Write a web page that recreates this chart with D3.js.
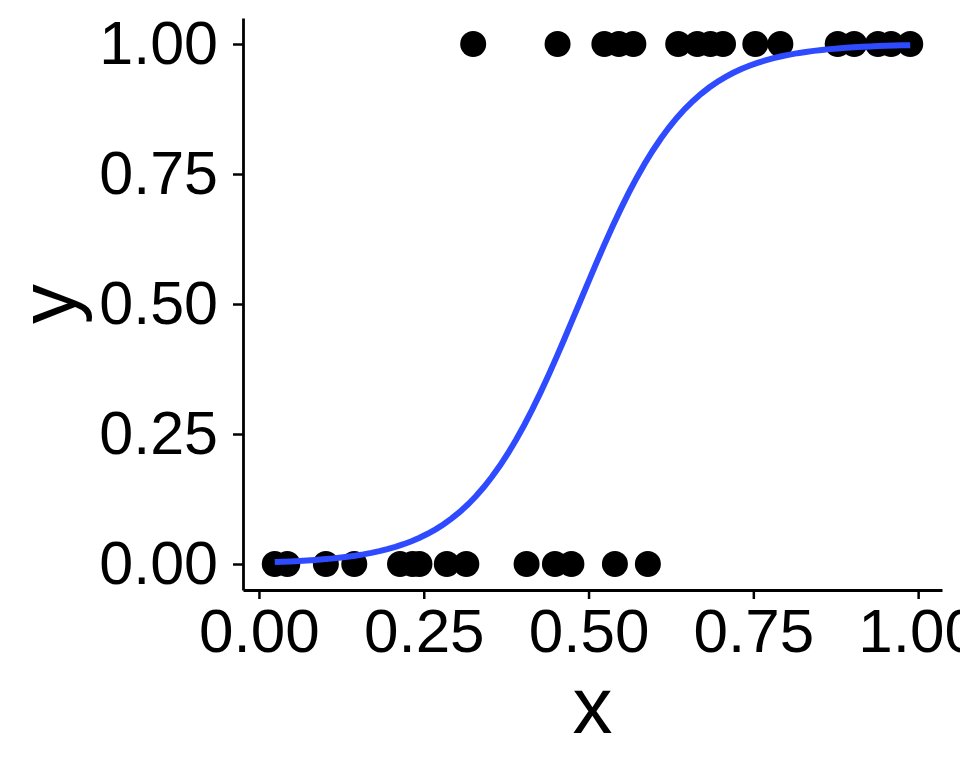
<!DOCTYPE html>
<html>
<head>
<meta charset="utf-8">
<script src="https://cdn.jsdelivr.net/npm/d3@7"></script>
<style>
  body { margin: 0; background: #fff; }
  svg { display: block; }
  text { font-family: "Liberation Sans", Arial, sans-serif; fill: #000; }
</style>
</head>
<body>
<div id="chart"></div>
<script>
// observations with y = 0
var x0Points = [0.024, 0.043, 0.1015, 0.1446, 0.214, 0.233, 0.2435, 0.285, 0.3146,
  0.406, 0.449, 0.474, 0.540, 0.590];
// observations with y = 1
var x1Points = [0.325, 0.453, 0.524, 0.546, 0.568, 0.636, 0.665, 0.685, 0.704,
  0.753, 0.791, 0.878, 0.903, 0.939, 0.959, 0.988];
var tickValues = [0, 0.25, 0.5, 0.75, 1];

var width = 960, height = 768;
var margin = { top: 18, right: 18, bottom: 178, left: 243 };

var data = x0Points.map(function (d) { return { x: d, y: 0 }; })
  .concat(x1Points.map(function (d) { return { x: d, y: 1 }; }));

var xExt = d3.extent(data, function (d) { return d.x; });
var pad = (xExt[1] - xExt[0]) * 0.05;

var x = d3.scaleLinear()
  .domain([xExt[0] - pad, xExt[1] + pad])
  .range([margin.left, width - margin.right]);
var y = d3.scaleLinear()
  .domain([-0.05, 1.05])
  .range([height - margin.bottom, margin.top]);

// logistic regression fit (IRLS), like geom_smooth(method = "glm", binomial)
function fitLogit(pts) {
  var b0 = 0, b1 = 0;
  for (var it = 0; it < 50; it++) {
    var g0 = 0, g1 = 0, h00 = 0, h01 = 0, h11 = 0;
    pts.forEach(function (p) {
      var mu = 1 / (1 + Math.exp(-(b0 + b1 * p.x)));
      var w = mu * (1 - mu);
      g0 += p.y - mu; g1 += (p.y - mu) * p.x;
      h00 += w; h01 += w * p.x; h11 += w * p.x * p.x;
    });
    var det = h00 * h11 - h01 * h01;
    b0 += (h11 * g0 - h01 * g1) / det;
    b1 += (h00 * g1 - h01 * g0) / det;
  }
  return [b0, b1];
}
var coef = fitLogit(data);
var curve = d3.range(80).map(function (i) {
  var xv = xExt[0] + (xExt[1] - xExt[0]) * i / 79;
  return { x: xv, y: 1 / (1 + Math.exp(-(coef[0] + coef[1] * xv))) };
});

var svg = d3.select("#chart").append("svg")
  .attr("width", width)
  .attr("height", height);

// points
svg.append("g")
  .selectAll("circle")
  .data(data)
  .enter()
  .append("circle")
  .attr("cx", function (d) { return x(d.x); })
  .attr("cy", function (d) { return y(d.y); })
  .attr("r", 13)
  .attr("fill", "#000");

// fitted curve
svg.append("path")
  .datum(curve)
  .attr("fill", "none")
  .attr("stroke", "#2F4BFF")
  .attr("stroke-width", 6)
  .attr("d", d3.line()
    .x(function (d) { return x(d.x); })
    .y(function (d) { return y(d.y); }));

var fmt = d3.format(".2f");

// x axis
var gx = svg.append("g")
  .attr("transform", "translate(0," + (height - margin.bottom) + ")")
  .call(d3.axisBottom(x).tickValues(tickValues).tickFormat(fmt).tickSize(9).tickSizeOuter(0));
gx.select(".domain").attr("stroke-width", 2.8);
gx.selectAll(".tick line").attr("stroke-width", 2.5);
gx.selectAll(".tick text")
  .attr("y", 18)
  .attr("dy", "0.71em")
  .style("font-size", "62px")
  .style("font-family", "Liberation Sans, Arial, sans-serif");

// y axis
var gy = svg.append("g")
  .attr("transform", "translate(" + margin.left + ",0)")
  .call(d3.axisLeft(y).tickValues(tickValues).tickFormat(fmt).tickSize(10).tickSizeOuter(0));
gy.select(".domain").attr("stroke-width", 2.8);
gy.selectAll(".tick line").attr("stroke-width", 2.5);
gy.selectAll(".tick text")
  .attr("x", -25)
  .style("font-size", "61px")
  .style("font-family", "Liberation Sans, Arial, sans-serif");

// axis titles
svg.append("text")
  .attr("x", (margin.left + width - margin.right) / 2)
  .attr("y", 733)
  .attr("text-anchor", "middle")
  .style("font-size", "80px")
  .text("x");

svg.append("text")
  .attr("transform", "translate(75," + y(0.5) + ") rotate(-90)")
  .attr("text-anchor", "middle")
  .style("font-size", "80px")
  .text("y");
</script>
</body>
</html>
